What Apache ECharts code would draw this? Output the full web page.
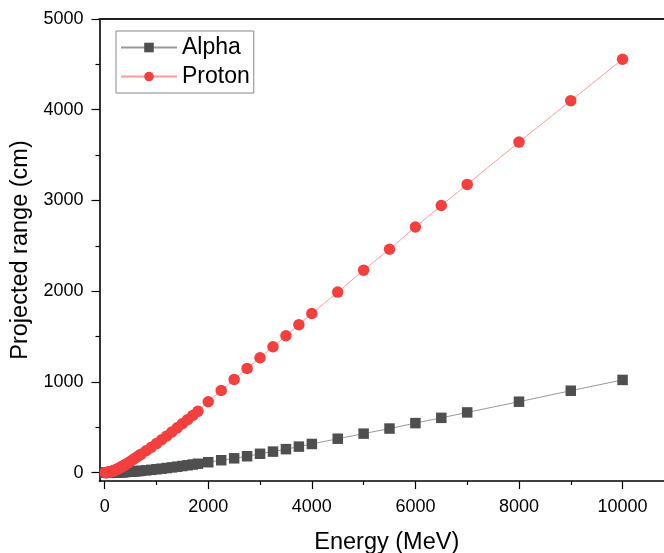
<!DOCTYPE html>
<html>
<head>
<meta charset="utf-8">
<script src="https://cdn.jsdelivr.net/npm/echarts@6/dist/echarts.min.js"></script>
<style>
  html, body { margin: 0; padding: 0; background: #fff; }
  #chart { width: 664px; height: 553px; }
</style>
</head>
<body>
<div id="chart"></div>
<script>
// energies (MeV), shared by both series
const energy = [10, 20, 30, 40, 50, 60, 70, 80, 90, 100, 110, 120, 130, 140, 150, 160, 170, 180,
  200, 225, 250, 275, 300, 325, 350, 375, 400, 450, 500, 550, 600, 650, 700, 800, 900,
  1000, 1100, 1200, 1300, 1400, 1500, 1600, 1700, 1800, 2000, 2250, 2500, 2750, 3000,
  3250, 3500, 3750, 4000, 4500, 5000, 5500, 6000, 6500, 7000, 8000, 9000, 10000];

// projected range (cm)
const alphaRange = [0.01, 0.04, 0.07, 0.12, 0.18, 0.25, 0.33, 0.43, 0.53, 0.64, 0.76, 0.89, 1.03, 1.17, 1.33, 1.5, 1.67, 1.85,
  2.2, 2.7, 3.3, 3.9, 4.6, 5.3, 6.1, 6.9, 7.7, 9.4, 11.3, 13.3, 15.5, 17.7, 20, 25.5, 31.2,
  37.3, 43.8, 50.7, 58, 65.5, 73.2, 81.2, 89.4, 98, 115, 137, 158, 181, 208,
  232, 259, 287, 316, 374, 430, 486, 546, 604, 664, 782, 903, 1022];

const protonRange = [0.12, 0.43, 0.9, 1.5, 2.3, 3.2, 4.2, 5.4, 6.7, 8.1, 9.6, 11.2, 12.9, 14.7, 16.6, 18.6, 20.7, 22.9,
  28, 35, 42, 49, 56, 64, 72, 80.5, 89, 107, 126, 145, 164, 183, 202, 241, 280,
  320, 362, 405, 449, 494, 539, 584, 630, 676, 781, 906, 1028, 1149, 1267,
  1388, 1509, 1631, 1754, 1990, 2232, 2462, 2708, 2944, 3177, 3643, 4100, 4556];

// tick labels
const xMajor = [0, 2000, 4000, 6000, 8000, 10000];
const xMinor = [1000, 3000, 5000, 7000, 9000];
const yMajor = [0, 1000, 2000, 3000, 4000, 5000];
const yMinor = [500, 1500, 2500, 3500, 4500];

const X_MIN = -100, X_MAX = 10800;
const Y_MIN = -92, Y_MAX = 5000;
const FONT = 'Liberation Sans, Arial, sans-serif';

const chart = echarts.init(document.getElementById('chart'));

const zip = (xs, ys) => xs.map((x, i) => [x, ys[i]]);
const plain = v => String(v);

const option = {
  animation: false,
  backgroundColor: '#fff',
  grid: { left: 99.5, right: 0, top: 19, bottom: 72, containLabel: false, outerBoundsMode: 'none' },
  legend: {
    left: 116,
    top: 31,
    orient: 'vertical',
    padding: [5, 4, 5, 4],
    borderColor: '#888',
    borderWidth: 1,
    itemWidth: 56,
    itemHeight: 12,
    itemGap: 6,
    textStyle: { fontFamily: FONT, fontSize: 23, color: '#000' },
    data: ['Alpha', 'Proton']
  },
  xAxis: [
    {
      type: 'value',
      min: X_MIN,
      max: X_MAX,
      name: 'Energy (MeV)',
      nameLocation: 'middle',
      nameGap: 50,
      nameTextStyle: { fontFamily: FONT, fontSize: 23.5, color: '#000', padding: [0, 0, 0, 10] },
      axisLine: { show: true, onZero: false, lineStyle: { color: '#000', width: 1.6 } },
      axisTick: { show: true, inside: false, length: 8, customValues: xMajor, lineStyle: { color: '#000', width: 1.2 } },
      axisLabel: { customValues: xMajor, formatter: plain, margin: 17, fontFamily: FONT, fontSize: 18, color: '#000' },
      splitLine: { show: false }
    },
    {
      type: 'value',
      min: X_MIN,
      max: X_MAX,
      position: 'bottom',
      axisLine: { show: false, onZero: false },
      axisTick: { show: true, inside: false, length: 4, customValues: xMinor, lineStyle: { color: '#000', width: 1.2 } },
      axisLabel: { show: false },
      splitLine: { show: false }
    },
    {
      type: 'value',
      min: X_MIN,
      max: X_MAX,
      position: 'top',
      axisLine: { show: true, onZero: false, lineStyle: { color: '#222', width: 2 } },
      axisTick: { show: false },
      axisLabel: { show: false },
      splitLine: { show: false }
    }
  ],
  yAxis: [
    {
      type: 'value',
      min: Y_MIN,
      max: Y_MAX,
      name: 'Projected range (cm)',
      nameLocation: 'middle',
      nameGap: 60,
      nameTextStyle: { fontFamily: FONT, fontSize: 23.5, color: '#000' },
      axisLine: { show: true, onZero: false, lineStyle: { color: '#000', width: 1.6 } },
      axisTick: { show: true, inside: false, length: 8, customValues: yMajor, lineStyle: { color: '#000', width: 1.2 } },
      axisLabel: { customValues: yMajor, formatter: plain, margin: 16, fontFamily: FONT, fontSize: 18, color: '#000' },
      splitLine: { show: false }
    },
    {
      type: 'value',
      min: Y_MIN,
      max: Y_MAX,
      position: 'left',
      axisLine: { show: false, onZero: false },
      axisTick: { show: true, inside: false, length: 4, customValues: yMinor, lineStyle: { color: '#000', width: 1.2 } },
      axisLabel: { show: false },
      splitLine: { show: false }
    }
  ],
  series: [
    {
      name: 'Alpha',
      type: 'line',
      xAxisIndex: 0,
      yAxisIndex: 0,
      data: zip(energy, alphaRange),
      symbol: 'rect',
      symbolSize: 10.5,
      itemStyle: { color: '#4f4f4f' },
      lineStyle: { color: '#999', width: 1 }
    },
    {
      name: 'Proton',
      type: 'line',
      xAxisIndex: 0,
      yAxisIndex: 0,
      data: zip(energy, protonRange),
      symbol: 'circle',
      symbolSize: 11.5,
      itemStyle: { color: '#f43f3f' },
      lineStyle: { color: '#ff9a9a', width: 1 }
    }
  ]
};

chart.setOption(option);
</script>
</body>
</html>
